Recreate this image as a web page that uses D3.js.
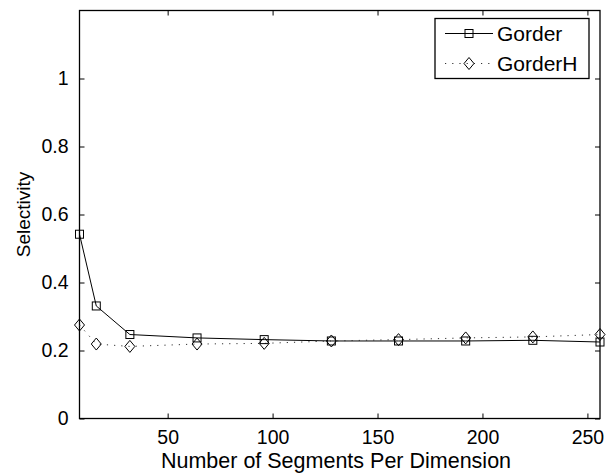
<!DOCTYPE html>
<html>
<head>
<meta charset="utf-8">
<script src="https://cdn.jsdelivr.net/npm/d3@7"></script>
<style>
  html, body { margin: 0; padding: 0; background: #fff; }
  svg { display: block; font-family: "Liberation Sans", Arial, Helvetica, sans-serif; }
</style>
</head>
<body>
<svg id="chart" width="610" height="473"></svg>
<script>
const segments = [8, 16, 32, 64, 96, 128, 160, 192, 224, 256];
const gorder   = [0.542, 0.331, 0.247, 0.237, 0.232, 0.228, 0.228, 0.228, 0.230, 0.225];
const gorderH  = [0.275, 0.219, 0.212, 0.219, 0.221, 0.228, 0.232, 0.237, 0.240, 0.247];
const xTicks = [50, 100, 150, 200, 250];
const yTicks = [0, 0.2, 0.4, 0.6, 0.8, 1];
const seriesNames = ["Gorder", "GorderH"];

const svg = d3.select("#chart");
const L = 79.5, R = 600, T = 10.5, B = 418.5;
const x = d3.scaleLinear().domain([8, 256]).range([L, R]);
const y = d3.scaleLinear().domain([0, 1.2]).range([B, T]);

// frame
svg.append("rect").attr("x", L).attr("y", T).attr("width", R - L).attr("height", B - T)
  .attr("fill", "none").attr("stroke", "#000").attr("stroke-width", 1.3);

const tickLen = 5;
const xAxis = svg.append("g").attr("transform", `translate(0,${B})`)
  .call(d3.axisBottom(x).tickValues(xTicks).tickSizeInner(-tickLen).tickSizeOuter(0).tickPadding(12).tickFormat(d3.format("d")));
const xTop = svg.append("g").attr("transform", `translate(0,${T})`)
  .call(d3.axisTop(x).tickValues(xTicks).tickSizeInner(-tickLen).tickSizeOuter(0).tickFormat(""));
const yAxis = svg.append("g").attr("transform", `translate(${L},0)`)
  .call(d3.axisLeft(y).tickValues(yTicks).tickSizeInner(-tickLen).tickSizeOuter(0).tickPadding(11).tickFormat(d => d === 0 ? "0" : d === 1 ? "1" : d3.format(".1f")(d)));
const yRight = svg.append("g").attr("transform", `translate(${R},0)`)
  .call(d3.axisRight(y).tickValues(yTicks).tickSizeInner(-tickLen).tickSizeOuter(0).tickFormat(""));

[xAxis, xTop, yAxis, yRight].forEach(g => {
  g.select(".domain").remove();
  g.selectAll(".tick line").attr("stroke", "#000").attr("stroke-width", 1);
  g.selectAll("text").attr("fill", "#000").style("font-family", '"Liberation Sans", Arial, sans-serif');
});
xAxis.selectAll("text").style("font-size", "19.5px");
yAxis.selectAll("text").style("font-size", "19.5px");

const line = d3.line().x((d, i) => x(segments[i])).y(d => y(d));
svg.append("path").datum(gorder).attr("d", line)
  .attr("fill", "none").attr("stroke", "#000").attr("stroke-width", 1);
svg.append("path").datum(gorderH).attr("d", line)
  .attr("fill", "none").attr("stroke", "#333").attr("stroke-width", 1).attr("stroke-dasharray", "1.2,6");

const sq = 4;
function square(g, cx, cy) {
  g.append("rect").attr("x", cx - sq).attr("y", cy - sq).attr("width", 2 * sq).attr("height", 2 * sq)
    .attr("fill", "none").attr("stroke", "#000").attr("stroke-width", 1);
}
function diamond(g, cx, cy) {
  const w = 5, h = 6;
  g.append("path").attr("d", `M${cx},${cy - h}L${cx + w},${cy}L${cx},${cy + h}L${cx - w},${cy}Z`)
    .attr("fill", "none").attr("stroke", "#000").attr("stroke-width", 1);
}
const mg = svg.append("g");
gorder.forEach((v, i) => square(mg, x(segments[i]), y(v)));
gorderH.forEach((v, i) => diamond(mg, x(segments[i]), y(v)));

svg.append("text").attr("x", 336).attr("y", 468).attr("text-anchor", "middle")
  .style("font-size", "21.5px").attr("fill", "#000").text("Number of Segments Per Dimension");
svg.append("text").attr("transform", `translate(30,${(T + B) / 2}) rotate(-90)`).attr("text-anchor", "middle")
  .style("font-size", "19px").attr("fill", "#000").text("Selectivity");

const lg = svg.append("g");
lg.append("rect").attr("x", 435).attr("y", 18.5).attr("width", 154).attr("height", 60)
  .attr("fill", "#fff").attr("stroke", "#000").attr("stroke-width", 1.3);
const rows = [33.5, 63.5];
lg.append("line").attr("x1", 445).attr("x2", 493).attr("y1", rows[0]).attr("y2", rows[0])
  .attr("stroke", "#000").attr("stroke-width", 1);
square(lg, 469, rows[0]);
lg.append("line").attr("x1", 445).attr("x2", 493).attr("y1", rows[1]).attr("y2", rows[1])
  .attr("stroke", "#333").attr("stroke-width", 1).attr("stroke-dasharray", "1.2,6");
diamond(lg, 469, rows[1]);
seriesNames.forEach((n, i) => {
  lg.append("text").attr("x", 497).attr("y", rows[i] + 7.5).style("font-size", "21px").attr("fill", "#000").text(n);
});
</script>
</body>
</html>
